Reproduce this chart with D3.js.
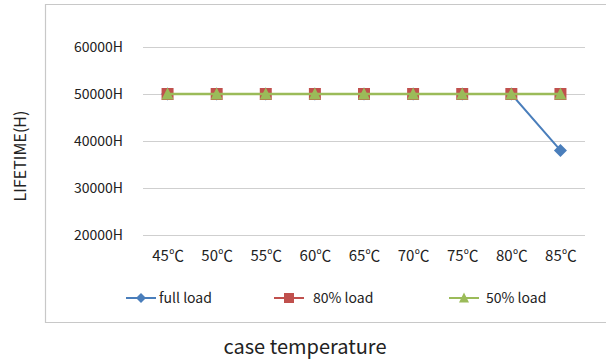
<!DOCTYPE html>
<html>
<head>
<meta charset="utf-8">
<script src="https://cdn.jsdelivr.net/npm/d3@7/dist/d3.min.js"></script>
<style>
  html, body { margin: 0; padding: 0; background: #fff; }
  svg { display: block; font-family: "Noto Sans CJK SC", "Noto Sans", sans-serif; }
</style>
</head>
<body>
<svg id="chart" width="606" height="361"></svg>
<script>
// Case temperatures along the x axis
const temperatures = ["45℃", "50℃", "55℃", "60℃", "65℃", "70℃", "75℃", "80℃", "85℃"];
// Lifetime in hours per load level
const fullLoad = [50000, 50000, 50000, 50000, 50000, 50000, 50000, 50000, 38000];
const load80 = [50000, 50000, 50000, 50000, 50000, 50000, 50000, 50000, 50000];
const load50 = [50000, 50000, 50000, 50000, 50000, 50000, 50000, 50000, 50000];
const yTicks = [20000, 30000, 40000, 50000, 60000];
const seriesNames = ["full load", "80% load", "50% load"];

const svg = d3.select("#chart");

const x = d3.scalePoint().domain(temperatures).range([143, 585]).padding(0.5);
const y = d3.scaleLinear().domain([20000, 60000]).range([235, 47]);

// Outer frame (open on the right)
svg.append("path")
  .attr("d", "M606,4.5 H45.5 V322.5 H606")
  .attr("fill", "none").attr("stroke", "#c8c8c8").attr("stroke-width", 1.2);

// Horizontal gridlines
svg.append("g").selectAll("line").data(yTicks).join("line")
  .attr("x1", 143).attr("x2", 585)
  .attr("y1", d => Math.round(y(d)) + 0.5).attr("y2", d => Math.round(y(d)) + 0.5)
  .attr("stroke", "#cfcfcf").attr("stroke-width", 1.2);

// Y axis labels
const yAxis = d3.axisLeft(y).tickValues(yTicks).tickSize(0).tickPadding(0)
  .tickFormat(d => d + "H");
const gy = svg.append("g").attr("transform", "translate(123,0)").call(yAxis);
gy.select(".domain").remove();
gy.selectAll("text").attr("font-size", 14).attr("fill", "#222")
  .attr("font-family", "'Noto Sans CJK SC', 'Noto Sans', sans-serif");

// X axis labels
const xAxis = d3.axisBottom(x).tickSize(0).tickPadding(0);
const gx = svg.append("g").attr("transform", "translate(0,250)").call(xAxis);
gx.select(".domain").remove();
gx.selectAll("text").attr("font-size", 15).attr("fill", "#222")
  .attr("font-family", "'Noto Sans CJK SC', 'Noto Sans', sans-serif");

const colors = ["#4a7ebb", "#c0504d", "#9bbb59"];
const allSeries = [fullLoad, load80, load50];

const line = d3.line().x((d, i) => x(temperatures[i])).y(d => y(d));

const diamond = (s) => `M0,${-s} L${s},0 L0,${s} L${-s},0 Z`;
const square = (s) => `M${-s},${-s} H${s} V${s} H${-s} Z`;
const triangle = (s) => `M0,${-s * 1.1} L${s},${s * 0.9} L${-s},${s * 0.9} Z`;
const shapes = [diamond, square, triangle];
const sizes = [6.5, 6, 6];

allSeries.forEach((vals, k) => {
  const g = svg.append("g");
  g.append("path").datum(vals).attr("d", line)
    .attr("fill", "none").attr("stroke", colors[k]).attr("stroke-width", k === 2 ? 2.5 : 2);
  g.selectAll("path.m").data(vals).join("path").attr("class", "m")
    .attr("transform", (d, i) => `translate(${x(temperatures[i])},${y(d)})`)
    .attr("d", shapes[k](sizes[k]))
    .attr("fill", colors[k]);
});

// Legend
const legendX = [126, 274, 449];
const legendTextX = [159, 313, 486];
const legendY = 298;
seriesNames.forEach((name, k) => {
  const g = svg.append("g");
  g.append("line").attr("x1", legendX[k]).attr("x2", legendX[k] + 30)
    .attr("y1", legendY).attr("y2", legendY)
    .attr("stroke", colors[k]).attr("stroke-width", 2);
  g.append("path").attr("transform", `translate(${legendX[k] + 15},${legendY})`)
    .attr("d", shapes[k](5)).attr("fill", colors[k]);
  g.append("text").attr("x", legendTextX[k]).attr("y", legendY)
    .attr("dy", "0.35em").attr("font-size", 14).attr("fill", "#222").text(name);
});

// Axis titles
svg.append("text").attr("x", 305).attr("y", 354).attr("text-anchor", "middle")
  .attr("font-size", 20).attr("fill", "#222").text("case temperature");
svg.append("text").attr("transform", "translate(26,156) rotate(-90)")
  .attr("text-anchor", "middle").attr("font-size", 16).attr("fill", "#222")
  .text("LIFETIME(H)");
</script>
</body>
</html>
